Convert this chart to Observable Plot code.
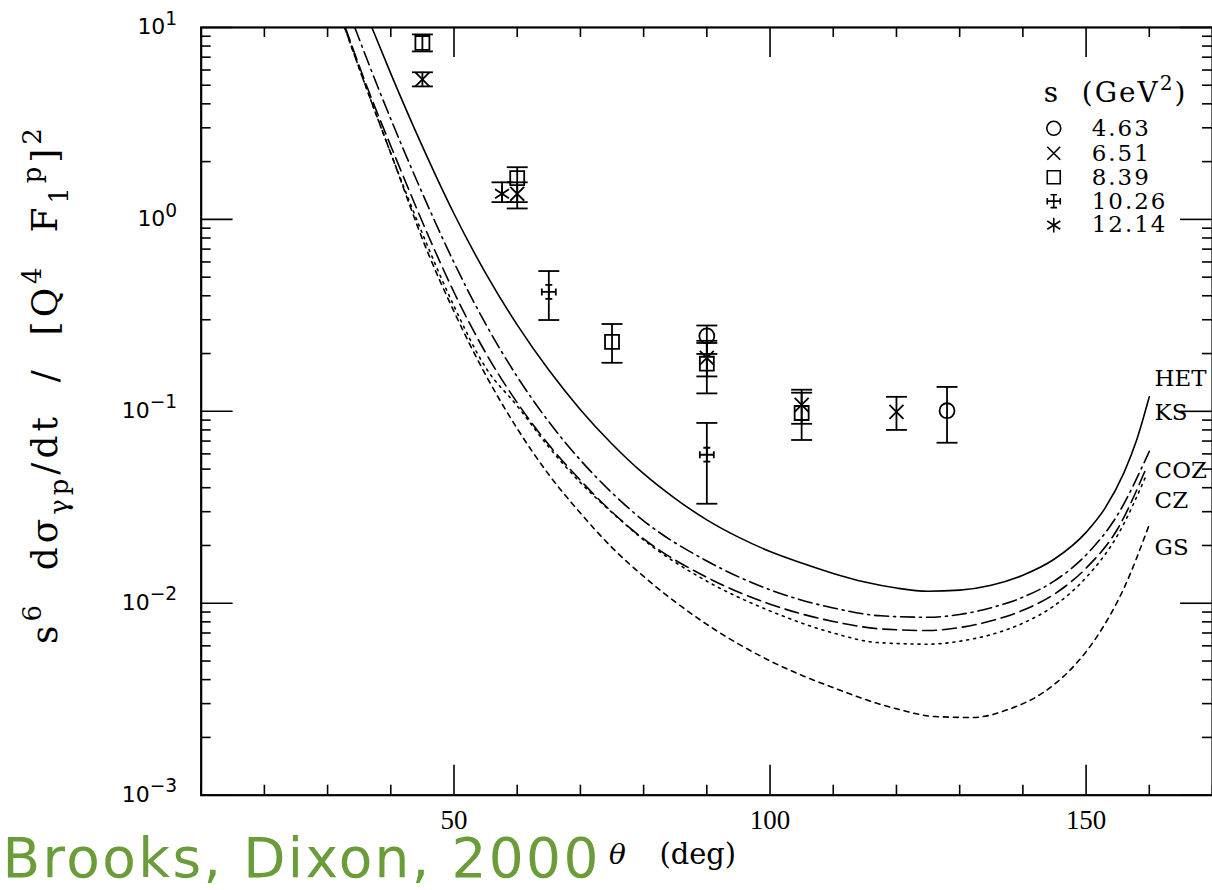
<!DOCTYPE html>
<html><head><meta charset="utf-8">
<script src="https://cdn.jsdelivr.net/npm/d3@7"></script>
<script src="https://cdn.jsdelivr.net/npm/@observablehq/plot@0.6"></script>
<style>html,body{margin:0;padding:0;background:#fff;overflow:hidden;} #chart{width:1212px;height:890px;overflow:hidden;position:relative;}</style>
</head><body><div id="chart"></div>
<script>
// ---------- data ----------
const hetTheta = [37, 40, 45, 50, 55, 60, 65, 70, 75, 80, 85, 90, 95, 100, 105, 110, 115, 120, 125, 130, 135, 140, 145, 150, 153, 156, 158, 160];
const hetValue = [10, 5.75, 2.40, 1.07, 0.525, 0.282, 0.164, 0.102, 0.0676, 0.0473, 0.0351, 0.0272, 0.0221, 0.0186, 0.0162, 0.0143, 0.0129, 0.012, 0.01155, 0.0117, 0.0124, 0.014, 0.017, 0.0234, 0.0313, 0.0479, 0.0708, 0.119];
const ksTheta = [32.7, 36, 40.1, 45.7, 50, 55, 60, 65, 70, 75, 80, 90, 100, 110, 117, 125, 130, 135, 140, 145, 150, 155, 159.5];
const ksValue = [10, 4.97, 2.166, 0.7426, 0.3535, 0.1692, 0.1067, 0.0651, 0.0425, 0.0297, 0.0214, 0.01303, 0.00912, 0.0070, 0.00624, 0.00612, 0.00634, 0.00687, 0.00787, 0.00973, 0.01361, 0.02265, 0.04624];
const cozTheta = [34.3, 38, 42.5, 45, 50, 55, 60, 65, 70, 75, 80, 90, 100, 110, 117.5, 125, 130, 135, 140, 145, 150, 155, 160];
const cozValue = [10, 4.85, 2.117, 1.366, 0.596, 0.2853, 0.1515, 0.0882, 0.0557, 0.0376, 0.0269, 0.0166, 0.01176, 0.00945, 0.0086, 0.00845, 0.00874, 0.00948, 0.01075, 0.01308, 0.01785, 0.02895, 0.0619];
const czTheta = [32.8, 36, 40.9, 46.7, 50, 55, 60, 65, 70, 75, 80, 90, 100, 110, 118, 125, 130, 135, 140, 145, 150, 155, 159.5];
const czValue = [10, 5.152, 2.043, 0.7208, 0.4171, 0.202, 0.1109, 0.0669, 0.0437, 0.02987, 0.02164, 0.01365, 0.00989, 0.00804, 0.00733, 0.00721, 0.00747, 0.0081, 0.00919, 0.01117, 0.01524, 0.02445, 0.05049];
const gsTheta = [32.7, 36, 40.1, 45.7, 50, 55, 60, 65, 70, 75, 80, 90, 100, 110, 120, 126, 132, 138, 143, 148, 152, 156, 160];
const gsValue = [10, 4.97, 2.166, 0.692, 0.331, 0.155, 0.0813, 0.0468, 0.0295, 0.0195, 0.0138, 0.00776, 0.00501, 0.00363, 0.00282, 0.00257, 0.00254, 0.00282, 0.00339, 0.00468, 0.00692, 0.012, 0.0257];

const curveNames = ["HET", "KS", "COZ", "CZ", "GS"];

const seriesLabels = ["4.63", "6.51", "8.39", "10.26", "12.14"];
const ptTheta = [45, 45, 57.6, 60, 60, 65, 75, 90, 90, 90, 90, 105, 105, 120, 128];
const ptS     = ["8.39", "6.51", "12.14", "8.39", "6.51", "10.26", "8.39", "4.63", "6.51", "8.39", "10.26", "6.51", "8.39", "6.51", "4.63"];
const ptValue = [8.3, 5.36, 1.36, 1.64, 1.36, 0.419, 0.23, 0.247, 0.19, 0.177, 0.0594, 0.108, 0.098, 0.0994, 0.1007];
const ptLo    = [7.5, 4.93, 1.23, 1.23, 1.14, 0.299, 0.179, 0.199, 0.152, 0.124, 0.033, 0.0861, 0.0709, 0.080, 0.0686];
const ptHi    = [9.2, 5.84, 1.56, 1.87, 1.56, 0.538, 0.285, 0.28, 0.233, 0.227, 0.087, 0.1296, 0.125, 0.119, 0.134];

const xMajor = [50, 100, 150];
const xMinor = [10, 20, 30, 40, 60, 70, 80, 90, 110, 120, 130, 140, 160, 170];
const yMajor = [0.001, 0.01, 0.1, 1, 10];
const yMinor = [];
for (const k of [-3, -2, -1, 0]) for (let m = 2; m <= 9; m++) yMinor.push(+(m * Math.pow(10, k)).toPrecision(3));

// ---------- tables ----------
const curveSets = [[hetTheta, hetValue], [ksTheta, ksValue], [cozTheta, cozValue], [czTheta, czValue], [gsTheta, gsValue]];
const curves = curveNames.map((name, i) => curveSets[i][0].map((t, j) => ({name, theta: t, value: curveSets[i][1][j]})));
const points = ptTheta.map((t, i) => ({theta: t, s: ptS[i], value: ptValue[i], lo: ptLo[i], hi: ptHi[i]}));

// ---------- symbols ----------
const rr = s => Math.sqrt(s / Math.PI);
const symCircle = {draw(c, s) { const r = rr(s); c.moveTo(r, 0); c.arc(0, 0, r, 0, 2 * Math.PI); }};
const symTimes = {draw(c, s) { const r = rr(s); c.moveTo(-r, -r); c.lineTo(r, r); c.moveTo(-r, r); c.lineTo(r, -r); }};
const symSquare = {draw(c, s) { const r = rr(s); c.moveTo(-r, -r); c.lineTo(r, -r); c.lineTo(r, r); c.lineTo(-r, r); c.closePath(); }};
const symPlusBar = {draw(c, s) { const r = rr(s), b = r * 0.5;
  c.moveTo(-r, 0); c.lineTo(r, 0); c.moveTo(0, -r); c.lineTo(0, r);
  c.moveTo(-b, -r); c.lineTo(b, -r); c.moveTo(-b, r); c.lineTo(b, r);
  c.moveTo(-r, -b); c.lineTo(-r, b); c.moveTo(r, -b); c.lineTo(r, b); }};
const symAst = {draw(c, s) { const r = rr(s), a = r * 0.87, b = r * 0.55;
  c.moveTo(0, -r); c.lineTo(0, r); c.moveTo(-a, -b); c.lineTo(a, b); c.moveTo(-a, b); c.lineTo(a, -b); }};
const symCap = {draw(c, s) { const r = rr(s); c.moveTo(-r, 0); c.lineTo(r, 0); }};
const seriesSymbol = {"4.63": symCircle, "6.51": symTimes, "8.39": symSquare, "10.26": symPlusBar, "12.14": symAst};
const seriesR = {"4.63": 7.5, "6.51": 7, "8.39": 7, "10.26": 7, "12.14": 8};
const dash = {HET: null, KS: "2,5", COZ: "14,5,2,5", CZ: "14,6", GS: "5,5"};

// ---------- layout ----------
const W = 1013, H = 769; // frame size
const serif = "DejaVu Serif";
const legendRowY = [101, 126, 150, 174, 198];
const curveLabelDy = {HET: 352, KS: 386, COZ: 444, CZ: 474, GS: 521};
const legendTitle = "s  (GeV^{2})";
const yTitle = "s^{6}  d\u03C3_{\u03B3p}/dt  /  [Q^{4}  F_{1}^{p}]^{2}";
const brand = "Brooks, Dixon, 2000";
const spacing = new Map([[legendTitle, 2], [yTitle, 4], [brand, 2.4], ...seriesLabels.map(s => [s, 2])]);

const marks = [
  Plot.ruleX(xMinor, {insetTop: H - 10, stroke: "black", strokeWidth: 1.6}),
  Plot.ruleX(xMinor, {insetBottom: H - 10, stroke: "black", strokeWidth: 1.6}),
  Plot.ruleX(xMajor, {insetTop: H - 30, stroke: "black", strokeWidth: 1.6}),
  Plot.ruleX(xMajor, {insetBottom: H - 30, stroke: "black", strokeWidth: 1.6}),
  Plot.ruleY(yMinor, {insetRight: W - 10, stroke: "black", strokeWidth: 1.6}),
  Plot.ruleY(yMinor, {insetLeft: W - 10, stroke: "black", strokeWidth: 1.6}),
  Plot.ruleY(yMajor, {insetRight: W - 32, stroke: "black", strokeWidth: 1.6}),
  Plot.ruleY(yMajor, {insetLeft: W - 32, stroke: "black", strokeWidth: 1.6}),
  Plot.frame({stroke: "black", strokeWidth: 2.2}),
  Plot.axisX(xMajor, {tickSize: 0, tickPadding: 15, fontSize: 27, fontFamily: "Liberation Serif", label: null}),
  Plot.axisY(yMajor, {tickSize: 0, tickPadding: 24, fontSize: 22, fontFamily: "DejaVu Sans", label: null,
    tickFormat: d => "10^{" + String(Math.round(Math.log10(d))).replace("-", "\u2212") + "}"}),
];
for (const c of curves) {
  marks.push(Plot.line(c, {x: "theta", y: "value", curve: "monotone-x", stroke: "black", strokeWidth: 1.6,
    strokeDasharray: dash[c[0].name], clip: true}));
}
marks.push(Plot.ruleX(points, {x: "theta", y1: "lo", y2: "hi", stroke: "black", strokeWidth: 1.8}));
marks.push(Plot.dot(points, {x: "theta", y: "lo", symbol: symCap, r: 10.5, stroke: "black", strokeWidth: 1.8, fill: "none"}));
marks.push(Plot.dot(points, {x: "theta", y: "hi", symbol: symCap, r: 10.5, stroke: "black", strokeWidth: 1.8, fill: "none"}));
for (const s of seriesLabels) {
  marks.push(Plot.dot(points.filter(p => p.s === s), {x: "theta", y: "value", symbol: seriesSymbol[s], r: seriesR[s],
    stroke: "black", strokeWidth: 1.8, fill: "none"}));
}
// legend
marks.push(Plot.text([legendTitle], {frameAnchor: "top-left", dx: 844, dy: 66, text: d => d, textAnchor: "start", lineAnchor: "middle",
  fontSize: 28, fontFamily: serif, fill: "black"}));
seriesLabels.forEach((s, i) => {
  marks.push(Plot.dot([s], {frameAnchor: "top-left", dx: 854, dy: legendRowY[i], symbol: seriesSymbol[s],
    r: seriesR[s] - 0.5, stroke: "black", strokeWidth: 1.6, fill: "none"}));
  marks.push(Plot.text([s], {frameAnchor: "top-left", dx: 892, dy: legendRowY[i], text: d => d, textAnchor: "start", lineAnchor: "middle",
    fontSize: 23, fontFamily: serif, fill: "black"}));
});
// curve labels
for (const n of curveNames) {
  marks.push(Plot.text([n], {frameAnchor: "top-left", dx: 955, dy: curveLabelDy[n], text: d => d, textAnchor: "start", lineAnchor: "middle",
    fontSize: 23, fontFamily: serif, fill: "black"}));
}
// axis titles (rotated y title: start-anchored at its bottom end)
marks.push(Plot.text([yTitle], {frameAnchor: "left", dx: -156, dy: 233, rotate: -90,
  textAnchor: "start", lineAnchor: "middle",
  text: d => d, fontSize: 36, fontFamily: serif, fill: "black"}));
marks.push(Plot.text(["\u03B8"], {frameAnchor: "bottom-left", dx: 417, dy: 60, text: d => d, textAnchor: "middle", lineAnchor: "middle",
  fontSize: 28, fontFamily: serif, fontStyle: "italic", fill: "black"}));
marks.push(Plot.text(["(deg)"], {frameAnchor: "bottom-left", dx: 459, dy: 60, text: d => d, textAnchor: "start", lineAnchor: "middle",
  fontSize: 29, fontFamily: serif, fill: "black"}));
marks.push(Plot.text([brand], {frameAnchor: "bottom-left", dx: -199, dy: 64, text: d => d, textAnchor: "start",
  lineAnchor: "middle", fontSize: 55, fontFamily: "DejaVu Sans", fill: "#6a9c3a"}));

const svg = Plot.plot({
  width: 1214, height: 890,
  marginLeft: 201, marginRight: 0, marginTop: 27, marginBottom: 94,
  x: {domain: [10, 170]},
  y: {type: "log", domain: [0.001, 10]},
  style: {background: "white", color: "black", fontFamily: serif, overflow: "visible"},
  marks
});

// letter spacing + convert ^{..} / _{..} markup into tspans
function fontSizeOf(el) {
  for (let n = el; n && n.getAttribute; n = n.parentNode) {
    const a = n.getAttribute("font-size"); if (a) return parseFloat(a);
    if (n.style && n.style.fontSize) return parseFloat(n.style.fontSize);
  }
  return 10;
}
d3.select(svg).selectAll("text").each(function() {
  const t = this.textContent;
  if (spacing.has(t)) this.setAttribute("letter-spacing", spacing.get(t));
  if (!/[\^_]\{/.test(t)) return;
  const fs = fontSizeOf(this);
  const g = this.closest("g[aria-label]");
  const isTick = g && /tick label/.test(g.getAttribute("aria-label"));
  const ratio = isTick ? 0.85 : 0.72;
  const parts = t.split(/(\^\{[^}]*\}|_\{[^}]*\})/).filter(p => p);
  while (this.firstChild) this.removeChild(this.firstChild);
  let cur = 0;
  for (const p of parts) {
    let target = 0, txt = p, small = false;
    if (p.startsWith("^{")) { target = -0.45 * fs; txt = p.slice(2, -1); small = true; }
    else if (p.startsWith("_{")) { target = 0.3 * fs; txt = p.slice(2, -1); small = true; }
    const ts = document.createElementNS("http://www.w3.org/2000/svg", "tspan");
    ts.setAttribute("dy", target - cur); cur = target;
    if (small) ts.setAttribute("font-size", ratio * fs);
    ts.textContent = txt;
    this.appendChild(ts);
  }
});
document.getElementById("chart").appendChild(svg);
</script></body></html>
